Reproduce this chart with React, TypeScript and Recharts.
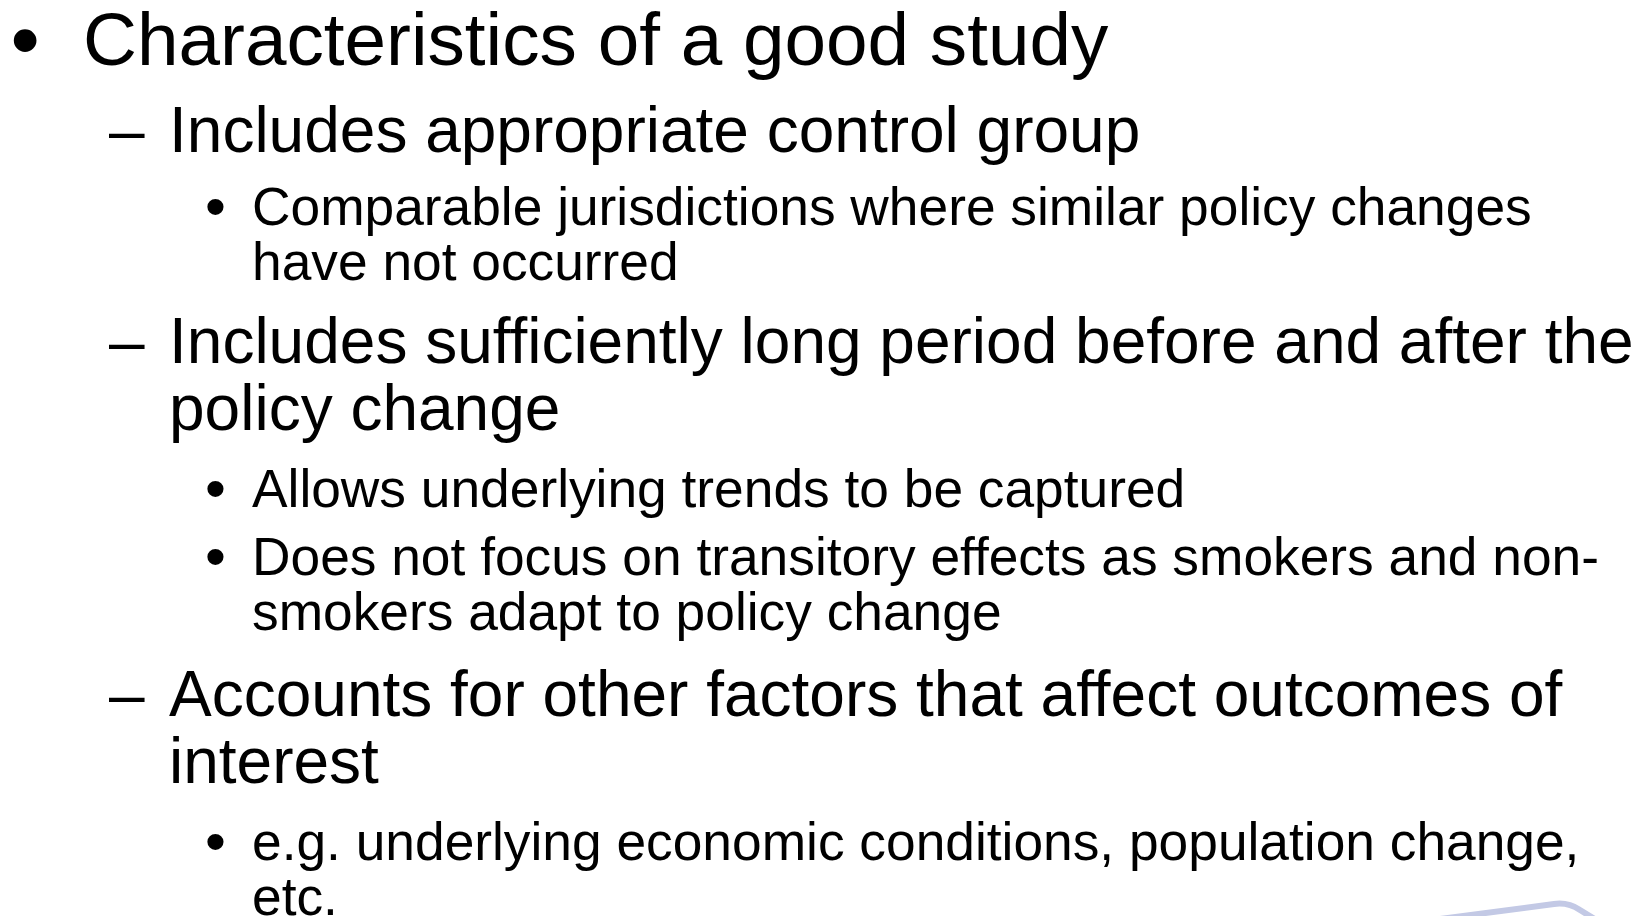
import React from "react";
import { Surface, Layer, Text } from "recharts";

// slide content, one entry per paragraph
const paragraphLevels = [1, 2, 3, 2, 3, 3, 2, 3];
const paragraphLines = [
  ["Characteristics of a good study"],
  ["Includes appropriate control group"],
  ["Comparable jurisdictions where similar policy changes", "have not occurred"],
  ["Includes sufficiently long period before and after the", "policy change"],
  ["Allows underlying trends to be captured"],
  ["Does not focus on transitory effects as smokers and non-", "smokers adapt to policy change"],
  ["Accounts for other factors that affect outcomes of", "interest"],
  ["e.g. underlying economic conditions, population change,", "etc."],
];
const levelMarkers = ["•", "–", "•"];

// layout (px)
const W = 1644;
const H = 916;
const FONT = "'Liberation Sans', Arial, Helvetica, sans-serif";
const fontSizes = [74.7, 64, 53.3];
const markerX = [12, 109, 206];
const markerScale = [1.12, 1, 1.12];
const textX = [83, 169, 252];
const lineAdvance = [80, 66.5, 55];
const paragraphTops = [65, 152, 225, 363, 507, 575, 716, 860];

function Marker({ lvl, y }: { lvl: number; y: number }) {
  const fs = fontSizes[lvl];
  const k = markerScale[lvl];
  // keep the glyph centred where the unscaled one would sit
  const x = markerX[lvl] + 0.175 * fs - 0.175 * fs * k;
  const dy = 0.307 * fs * (k - 1);
  return (
    <Text x={x} y={y + dy} fontSize={fs * k} fontFamily={FONT} fill="#000">
      {levelMarkers[lvl]}
    </Text>
  );
}

function Slide() {
  return (
    <Surface width={W} height={H}>
      <rect x={0} y={0} width={W} height={H} fill="#ffffff" />
      <Layer className="outline">
        {paragraphLines.map((lines, p) => {
          const lvl = paragraphLevels[p] - 1;
          const y0 = paragraphTops[p];
          return (
            <Layer key={p}>
              <Marker lvl={lvl} y={y0} />
              {lines.map((line, i) => (
                <Text
                  key={i}
                  x={textX[lvl]}
                  y={y0 + i * lineAdvance[lvl]}
                  fontSize={fontSizes[lvl]}
                  fontFamily={FONT}
                  fill="#000"
                >
                  {line}
                </Text>
              ))}
            </Layer>
          );
        })}
      </Layer>
      {/* corner of the logo peeking in at the bottom right */}
      <path
        d="M1440,919 L1554,904 Q1568,902 1580,910 L1606,926"
        fill="none"
        stroke="#c3c9e5"
        strokeWidth={6}
        strokeLinecap="round"
        strokeLinejoin="round"
      />
    </Surface>
  );
}

export default function App() {
  return (
    <div style={{ position: "absolute", left: 0, top: 0, width: W, height: H, background: "#fff" }}>
      <Slide />
    </div>
  );
}
